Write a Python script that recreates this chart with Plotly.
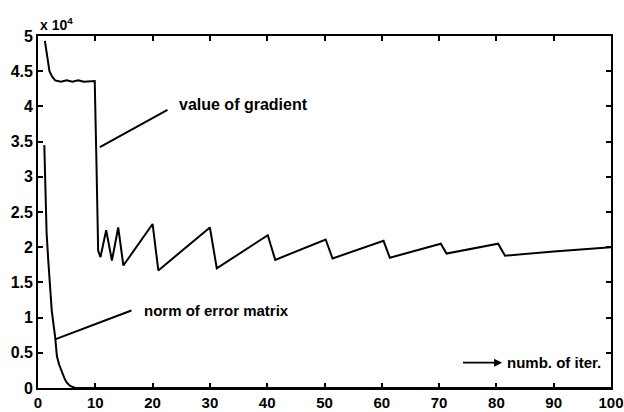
import plotly.graph_objects as go

# iteration numbers and values (raw units)
grad_iter = [1.2, 1.6, 2.0, 2.5, 3.0, 4.0, 5.0, 6.0, 7.0, 8.0, 9.0, 9.9, 10.2, 10.5, 10.9,
             11.9, 12.9, 14.0, 14.9, 20.0, 21.0, 30.0, 31.2, 40.1, 41.4, 50.2, 51.4,
             60.3, 61.4, 70.3, 71.3, 80.3, 81.5, 90.0, 100.0]
grad_val = [49300, 47200, 45000, 44200, 43700, 43500, 43700, 43500, 43700, 43500, 43600, 43600,
            32000, 19500, 18600, 22400, 18100, 22800, 17400, 23300, 16700, 22800, 17000,
            21700, 18200, 21100, 18400, 20900, 18500, 20500, 19100, 20500, 18800, 19400, 20000]

err_iter = [1.1, 1.2, 1.5, 1.8, 2.1, 2.4, 3.0, 3.3, 3.7, 4.1, 4.6, 5.0, 5.6, 6.5, 8.0, 100.0]
err_val = [34500, 31000, 22000, 18000, 14800, 11000, 7200, 4500, 3300, 2400, 1400, 800, 300, 0, 0, 0]

x_ticks = [0, 10, 20, 30, 40, 50, 60, 70, 80, 90, 100]
y_ticks = [0, 5000, 10000, 15000, 20000, 25000, 30000, 35000, 40000, 45000, 50000]
y_labels = ["0", "0.5", "1", "1.5", "2", "2.5", "3", "3.5", "4", "4.5", "5"]

FONT = "Liberation Sans"
TXT = dict(family=FONT, size=15, color="black", weight="bold")
fig = go.Figure()
fig.add_trace(go.Scatter(x=grad_iter, y=grad_val, mode="lines",
                         line=dict(color="black", width=2), showlegend=False))
fig.add_trace(go.Scatter(x=err_iter, y=err_val, mode="lines",
                         line=dict(color="black", width=2), showlegend=False))

# pointer lines
fig.add_shape(type="line", x0=10.8, y0=34200, x1=22.6, y1=39500, line=dict(color="black", width=2))
fig.add_shape(type="line", x0=2.97, y0=6900, x1=16.3, y1=11000, line=dict(color="black", width=2))

fig.add_annotation(x=24.2, y=40200, text="value of gradient", showarrow=False, xanchor="left",
                   yanchor="middle", font=dict(family=FONT, size=16, color="black", weight="bold"))
fig.add_annotation(x=18.1, y=11000, text="norm of error matrix", showarrow=False, xanchor="left",
                   yanchor="middle", font=TXT)
fig.add_annotation(x=81.0, y=3600, ax=73.9, ay=3600, axref="x", ayref="y", text="",
                   showarrow=True, arrowhead=2, arrowsize=1, arrowwidth=1.6, arrowcolor="black")
fig.add_annotation(x=81.5, y=3600, text="numb. of iter.", showarrow=False, xanchor="left",
                   yanchor="middle", font=TXT)
fig.add_annotation(xref="paper", yref="paper", x=0.0, y=1.0, yshift=1, text="x 10<sup>4</sup>",
                   showarrow=False, xanchor="left", yanchor="bottom",
                   font=dict(family=FONT, size=14, color="black", weight="bold"))

axis_common = dict(showgrid=False, zeroline=False, showline=True, linecolor="black", linewidth=1.8,
                   mirror="ticks", ticks="inside", ticklen=5, tickwidth=1.5, tickcolor="black",
                   automargin=False, ticklabeloverflow="allow")
fig.update_xaxes(range=[0, 100], tickvals=x_ticks, ticktext=[str(v) for v in x_ticks],
                 tickfont=dict(family=FONT, size=15, color="black", weight="bold"), **axis_common)
fig.update_yaxes(range=[0, 50000], tickvals=y_ticks, ticktext=y_labels,
                 tickfont=dict(family=FONT, size=16, color="black", weight="bold"), **axis_common)

fig.update_layout(width=624, height=412, margin=dict(l=38, r=13, t=36, b=24),
                  paper_bgcolor="white", plot_bgcolor="white", template="none")
fig.write_html("out.html")
